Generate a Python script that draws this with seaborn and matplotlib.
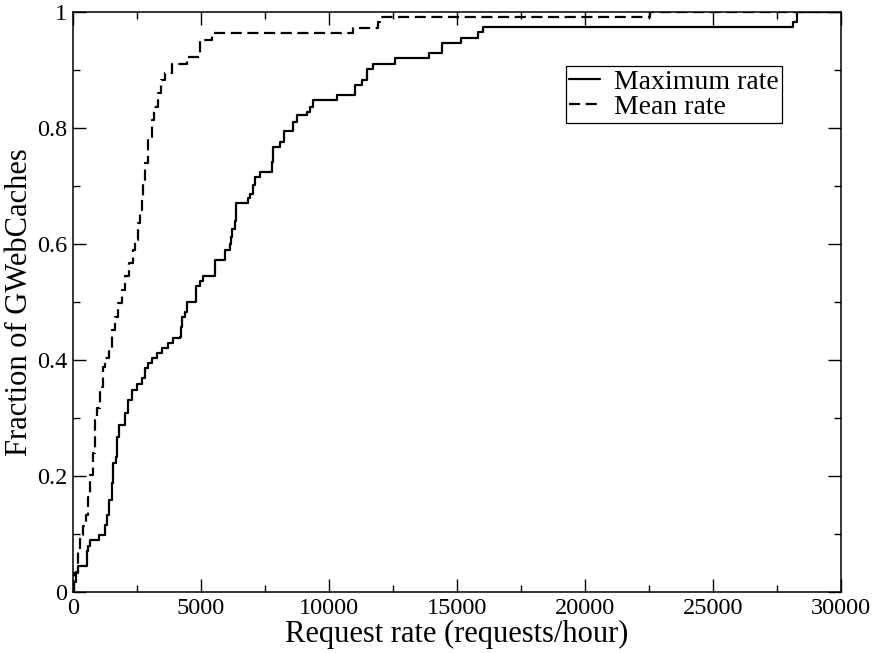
import numpy as np
import pandas as pd
import matplotlib
matplotlib.use("Agg")
import matplotlib.pyplot as plt
import seaborn as sns

# Step CDF of the maximum request rate (x = requests/hour, y = fraction)
max_rate_x = [0, 40, 100, 200, 535, 590, 664, 1027, 1250, 1328, 1418, 1512, 1574, 1680,
              1730, 1810, 2031, 2160, 2293, 2488, 2684, 2812, 2941, 3074, 3270, 3465,
              3723, 3918, 4180, 4220, 4246, 4375, 4441, 4790, 4805, 4960, 5090, 5547,
              5938, 6150, 6180, 6199, 6330, 6350, 6367, 6850, 6914, 7043, 7109, 7305,
              7762, 7824, 8086, 8254, 8582, 8738, 9129, 9258, 9363, 10332, 11016,
              11277, 11473, 11730, 12578, 13918, 14402, 15145, 15832, 16027, 28137,
              28293, 30000]
max_rate_y = [0.0, 0.018, 0.035, 0.044, 0.07, 0.08, 0.09, 0.099, 0.115, 0.133, 0.159,
              0.188, 0.222, 0.233, 0.267, 0.288, 0.309, 0.331, 0.348, 0.359, 0.369,
              0.386, 0.395, 0.403, 0.412, 0.421, 0.429, 0.438, 0.44, 0.457, 0.474,
              0.483, 0.5, 0.514, 0.528, 0.536, 0.545, 0.572, 0.59, 0.6, 0.612, 0.626,
              0.64, 0.655, 0.671, 0.679, 0.687, 0.702, 0.715, 0.725, 0.742, 0.768,
              0.776, 0.794, 0.811, 0.822, 0.828, 0.837, 0.848, 0.857, 0.874, 0.883,
              0.901, 0.911, 0.920, 0.930, 0.947, 0.956, 0.966, 0.974, 0.982, 1.0, 1.0]

# Step CDF of the mean request rate
mean_rate_x = [0, 20, 51, 207, 273, 402, 508, 598, 664, 770, 859, 949, 1055, 1184, 1250,
               1418, 1512, 1641, 1770, 1902, 2031, 2199, 2332, 2422, 2551, 2617, 2684,
               2746, 2813, 2941, 3074, 3164, 3332, 3438, 3594, 3855, 4441, 4961, 4980,
               5418, 10949, 11900, 11992, 22539, 30000]
mean_rate_y = [0.0, 0.016, 0.032, 0.072, 0.098, 0.113, 0.133, 0.164, 0.202, 0.239, 0.297,
               0.317, 0.354, 0.388, 0.403, 0.417, 0.452, 0.475, 0.498, 0.521, 0.544,
               0.567, 0.590, 0.607, 0.636, 0.659, 0.682, 0.705, 0.739, 0.785, 0.814,
               0.837, 0.860, 0.883, 0.894, 0.911, 0.923, 0.937, 0.952, 0.964, 0.972,
               0.982, 0.992, 1.0, 1.0]

series_names = ["Maximum rate", "Mean rate"]
x_ticks = [0, 5000, 10000, 15000, 20000, 25000, 30000]
y_ticks = [0, 0.2, 0.4, 0.6, 0.8, 1.0]
y_tick_labels = ["0", "0.2", "0.4", "0.6", "0.8", "1"]

df = pd.concat([
    pd.DataFrame({"rate": max_rate_x, "frac": max_rate_y, "series": series_names[0]}),
    pd.DataFrame({"rate": mean_rate_x, "frac": mean_rate_y, "series": series_names[1]}),
], ignore_index=True)

sns.set_theme(style="ticks")
plt.rcParams["font.family"] = ["Liberation Serif", "DejaVu Serif"]
plt.rcParams["axes.linewidth"] = 1.1
for k in ["text.color", "axes.labelcolor", "xtick.color", "ytick.color", "axes.edgecolor"]:
    plt.rcParams[k] = "black"

fig = plt.figure(figsize=(8.77, 6.53), dpi=100)
ax = fig.add_axes([73 / 877, 61 / 653, 768 / 877, 580 / 653])

sns.lineplot(data=df, x="rate", y="frac", style="series", style_order=series_names,
             dashes={"Maximum rate": "", "Mean rate": (5, 2.5)}, color="black",
             linewidth=1.6, drawstyle="steps-post", estimator=None, sort=False, ax=ax)

ax.set_xlim(0, 30000)
ax.set_ylim(0, 1)
ax.set_xticks(x_ticks)
ax.set_xticklabels([str(t) for t in x_ticks])
ax.set_yticks(y_ticks)
ax.set_yticklabels(y_tick_labels)
ax.set_xticks(np.arange(2500, 30000, 5000), minor=True)
ax.set_yticks(np.arange(0.1, 1.0, 0.2), minor=True)
ax.tick_params(which="both", direction="in", top=True, right=True, color="black", width=1.0)
ax.tick_params(which="major", length=9.5, labelsize=17.5, labelcolor="black")
ax.tick_params(axis="x", which="major", pad=4)
ax.tick_params(axis="y", which="major", pad=4)
ax.tick_params(which="minor", length=5)

ax.set_xlabel("Request rate (requests/hour)", fontsize=22, labelpad=1)
ax.set_ylabel("Fraction of GWebCaches", fontsize=22, labelpad=2)

leg = ax.legend(loc="upper left", bbox_to_anchor=(0.642, 0.907), fontsize=20,
                frameon=True, fancybox=False, edgecolor="black", framealpha=1,
                handlelength=1.1, handletextpad=0.5, borderpad=0.12, labelspacing=0.0,
                borderaxespad=0)
leg.get_frame().set_linewidth(0.9)
for h in leg.get_lines():
    h.set_linewidth(1.6)

fig.savefig("out.png", dpi=100)
